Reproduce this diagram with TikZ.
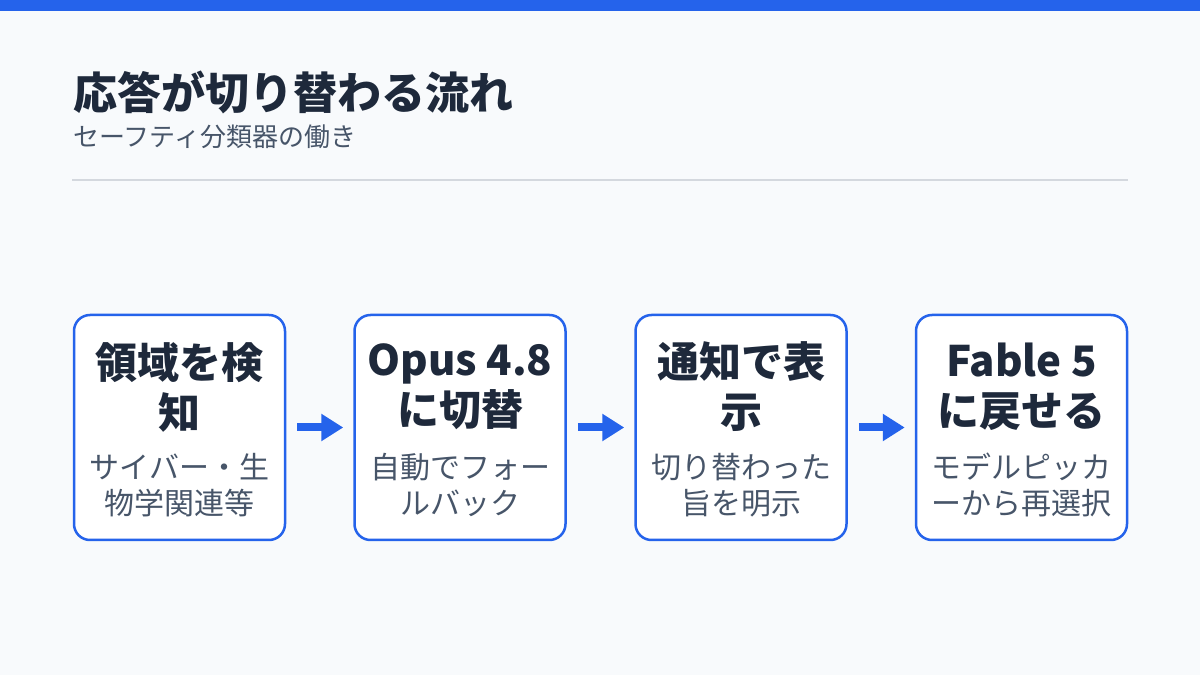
\documentclass[tikz,border=0pt]{standalone}
\usepackage{fontspec}
\setmainfont{Noto Sans CJK JP}
\usetikzlibrary{arrows.meta,positioning}
\definecolor{accentBlue}{HTML}{2563EB}
\definecolor{inkNavy}{HTML}{1E293B}
\definecolor{slateGray}{HTML}{475569}
\definecolor{ruleGray}{HTML}{D4D8DE}
\definecolor{paperWhite}{HTML}{F8FAFC}

\begin{document}
\begin{tikzpicture}[x=1pt,y=1pt,
    stepbox/.style={draw=accentBlue,line width=2.5pt,rounded corners=16pt,fill=white,minimum width=211pt,minimum height=225pt,inner sep=0pt},
    headtext/.style={align=center,inner sep=0pt,text=inkNavy,font=\bfseries\fontsize{42}{50}\selectfont},
    subtext/.style={align=center,inner sep=0pt,text=slateGray,font=\fontsize{30}{36}\selectfont},
    arrow/.style={-{Triangle[length=22pt,width=26pt]},line width=8pt,draw=accentBlue,shorten <=11pt,shorten >=10pt}
  ]
    \useasboundingbox (0,0) rectangle (1200,675);
    \fill[paperWhite] (0,0) rectangle (1200,675);
    \fill[accentBlue] (0,664) rectangle (1200,675);

    \node[anchor=west,inner sep=0pt,text=inkNavy,font=\bfseries\fontsize{44}{50}\selectfont] (title) at (73,583) {応答が切り替わる流れ};
    \node[anchor=west,inner sep=0pt,text=slateGray,font=\fontsize{26}{30}\selectfont] (subtitle) at (73,538) {セーフティ分類器の働き};
    \coordinate (ruleL) at (72,495);
    \coordinate (ruleR) at (1128,495);
    \draw[ruleGray,line width=1.5pt] (ruleL) -- (ruleR);

    \node[stepbox] (det) at (179.5,247.5) {};
    \node[stepbox,right=67pt of det] (opus) {};
    \node[stepbox,right=67.5pt of opus] (note) {};
    \node[stepbox,right=67pt of note] (fable) {};

    \node[headtext] at ([yshift=40.5pt]det.center) {領域を検\\知};
    \node[subtext] at ([yshift=-57.5pt]det.center) {サイバー・生\\物学関連等};
    \node[headtext] at ([yshift=40.5pt]opus.center) {Opus 4.8\\に切替};
    \node[subtext] at ([yshift=-57.5pt]opus.center) {自動でフォー\\ルバック};
    \node[headtext] at ([yshift=40.5pt]note.center) {通知で表\\示};
    \node[subtext] at ([yshift=-57.5pt]note.center) {切り替わった\\旨を明示};
    \node[headtext] at ([yshift=40.5pt]fable.center) {Fable 5\\に戻せる};
    \node[subtext] at ([yshift=-57.5pt]fable.center) {モデルピッカ\\ーから再選択};

    \draw[arrow] (det) -- (opus);
    \draw[arrow] (opus) -- (note);
    \draw[arrow] (note) -- (fable);
  \end{tikzpicture}
\end{document}
